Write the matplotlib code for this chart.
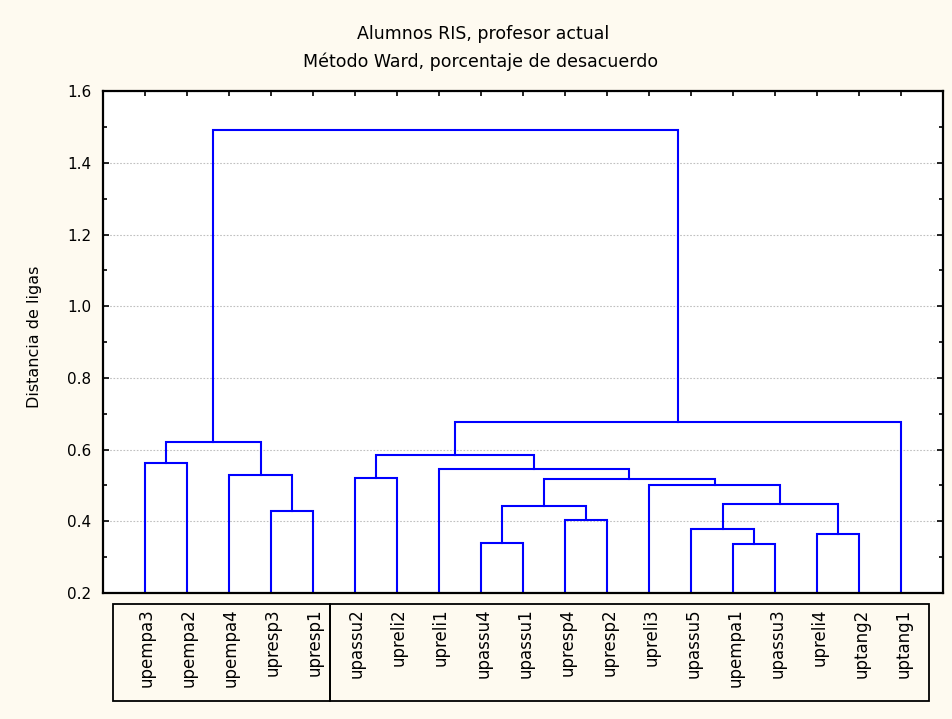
import matplotlib.pyplot as plt
from matplotlib.patches import Rectangle
from matplotlib.ticker import MultipleLocator

# leaves in display order (left to right)
leaves = ["upempa3", "upempa2", "upempa4", "upresp3", "upresp1",
          "upassu2", "upreli2", "upreli1", "upassu4", "upassu1",
          "upresp4", "upresp2", "upreli3", "upassu5", "upempa1",
          "upassu3", "upreli4", "uptang2", "uptang1"]

# Ward joins: ids < 19 are leaves, join k creates cluster 19 + k
merge_a = [14, 8, 16, 13, 10, 3, 20, 22, 12, 25, 5, 2, 7, 0, 29, 32, 33, 34]
merge_b = [15, 9, 17, 19, 11, 4, 23, 21, 26, 27, 6, 24, 28, 1, 31, 30, 18, 35]
heights = [0.338, 0.340, 0.365, 0.378, 0.405, 0.430, 0.443, 0.448, 0.501,
           0.519, 0.521, 0.529, 0.546, 0.562, 0.584, 0.622, 0.678, 1.491]

bg = "#fefaf0"
blue = "#0000ff"
y0 = 0.2

plt.rcParams["font.family"] = ["DejaVu Sans"]
fig = plt.figure(figsize=(9.52, 7.19), dpi=100, facecolor=bg)
ax = fig.add_axes([0.1082, 0.1753, 0.8824, 0.6977])
ax.set_facecolor("white")

n = len(leaves)
pos = {i: float(i) for i in range(n)}
hgt = {i: y0 for i in range(n)}
for k, (a, b, h) in enumerate(zip(merge_a, merge_b, heights)):
    xa, xb = pos[a], pos[b]
    ax.plot([xa, xa, xb, xb], [hgt[a], h, h, hgt[b]], color=blue, lw=1.5,
            solid_joinstyle="miter", zorder=3)
    pos[n + k] = (xa + xb) / 2
    hgt[n + k] = h

ax.set_xlim(-1, 19)
ax.set_ylim(0.2, 1.6)
ax.set_xticks(range(n))
ax.set_xticklabels([])
ax.yaxis.set_major_locator(MultipleLocator(0.2))
ax.yaxis.set_minor_locator(MultipleLocator(0.1))
ax.yaxis.set_major_formatter(lambda v, p: f"{v:.1f}")
ax.tick_params(axis="x", direction="in", top=True, bottom=True, length=3.5, width=1.2)
ax.tick_params(axis="y", which="major", direction="in", left=True, right=True,
               length=4, width=1.2, labelsize=11, pad=8.5)
ax.tick_params(axis="y", which="minor", direction="in", left=True, right=True,
               length=3, width=1.2)
ax.yaxis.grid(True, linestyle=(0, (1.5, 1.5)), color="#c0c0c0", linewidth=0.8)
ax.set_axisbelow(True)
for s in ax.spines.values():
    s.set_linewidth(1.6)
    s.set_zorder(4)

ax.set_ylabel("Distancia de ligas", fontsize=11.5)
ax.yaxis.set_label_coords(-0.073, 0.51)

# leaf label boxes below the axis
tr = ax.get_xaxis_transform()
for x_left, x_right in [(-0.76, 4.40), (4.40, 18.67)]:
    ax.add_patch(Rectangle((x_left, -0.215), x_right - x_left, 0.193,
                           transform=tr, fill=False, lw=1.3, ec="black",
                           clip_on=False))
for i, name in enumerate(leaves):
    ax.text(i + 0.05, -0.031, name, transform=tr, rotation=90, ha="center",
            va="top", fontsize=12)

fig.text(0.507, 0.9458, "Alumnos RIS, profesor actual", ha="center",
         va="baseline", fontsize=12.5)
fig.text(0.505, 0.9068, "Método Ward, porcentaje de desacuerdo", ha="center",
         va="baseline", fontsize=12.5)

fig.savefig("out.png", dpi=100, facecolor=bg)
